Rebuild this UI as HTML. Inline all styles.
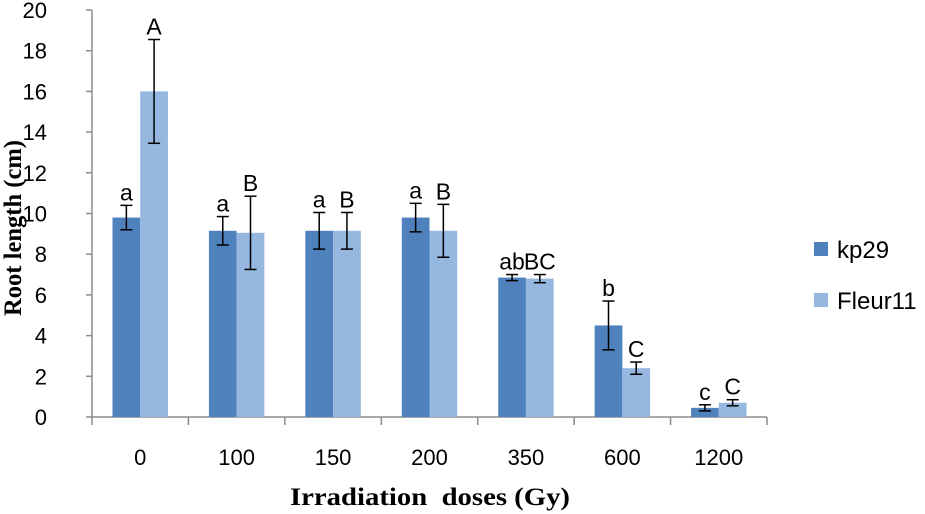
<!DOCTYPE html>
<html><head><meta charset="utf-8"><style>
body{margin:0;background:#fff}
svg{display:block;font-family:"Liberation Sans",sans-serif}
</style></head><body>
<svg id="c" width="925" height="514"></svg>
<script>
const categories=["0","100","150","200","350","600","1200"];
const kp29=[9.8,9.15,9.15,9.8,6.85,4.5,0.45];
const kp29Err=[0.6,0.7,0.9,0.7,0.15,1.2,0.15];
const kp29Labels=["a","a","a","a","ab","b","c"];
const fleur=[16,9.05,9.15,9.15,6.8,2.4,0.7];
const fleurErr=[2.55,1.8,0.9,1.3,0.2,0.3,0.15];
const fleurLabels=["A","B","B","B","BC","C","C"];
const yTicks=[0,2,4,6,8,10,12,14,16,18,20];
const NS="http://www.w3.org/2000/svg";
const svg=document.getElementById('c');
const X0=92,X1=767,Y0=417,Y1=10,YMAX=20;
const cw=(X1-X0)/categories.length;
const y=v=>Y0-(v/YMAX)*(Y0-Y1);
function mk(t,a,p){const e=document.createElementNS(NS,t);for(const k in a)e.setAttribute(k,a[k]);(p||svg).appendChild(e);return e;}
const axY=mk('line',{x1:X0,y1:Y1,x2:X0,y2:Y0,stroke:'#8c8c8c','stroke-width':1.5});


yTicks.forEach(t=>{
 const l=mk('line',{x1:X0-6,x2:X0,y1:y(t),y2:y(t),stroke:'#8c8c8c','stroke-width':1.5});
 
 
 const tx=mk('text',{x:47,y:y(t)+8,'text-anchor':'end','font-size':22,fill:'#000'});
 tx.textContent=t;
 
 
});
const axX=mk('line',{x1:X0,y1:Y0,x2:X1,y2:Y0,stroke:'#8c8c8c','stroke-width':1.5});


for(let i=0;i<=categories.length;i++){
 const l=mk('line',{x1:X0+i*cw,x2:X0+i*cw,y1:Y0,y2:Y0+8,stroke:'#8c8c8c','stroke-width':1.5});
 
 
}
const bw=cw*0.2875,gap=(cw-2*bw)/2;
function errBar(cx,v,e){
 const g=mk('g',{stroke:'#000','stroke-width':1.5});
 
 
 mk('line',{x1:cx,x2:cx,y1:y(v+e),y2:y(v-e)},g);
 mk('line',{x1:cx-6,x2:cx+6,y1:y(v+e),y2:y(v+e)},g);
 mk('line',{x1:cx-6,x2:cx+6,y1:y(v-e),y2:y(v-e)},g);
}
function letter(cx,v,e,s){
 const t=mk('text',{x:cx,y:y(v+e)-5,'text-anchor':'middle','font-size':23,fill:'#000'});
 t.textContent=s;
 
 
}
categories.forEach((c,i)=>{
 const gx=X0+i*cw+gap;
 const r1=mk('rect',{x:gx,y:y(kp29[i]),width:bw,height:Y0-y(kp29[i]),fill:'#4f81bd'});
 
 
 const r2=mk('rect',{x:gx+bw,y:y(fleur[i]),width:bw,height:Y0-y(fleur[i]),fill:'#95b7e0'});
 
 
 errBar(gx+bw/2,kp29[i],kp29Err[i]);
 errBar(gx+1.5*bw,fleur[i],fleurErr[i]);
 letter(gx+bw/2,kp29[i],kp29Err[i],kp29Labels[i]);
 letter(gx+1.5*bw,fleur[i],fleurErr[i],fleurLabels[i]);
 const t=mk('text',{x:X0+(i+0.5)*cw,y:465,'text-anchor':'middle','font-size':22,fill:'#000'});
 t.textContent=c;
 
 
});
</script>
<svg style="position:absolute;left:0;top:0" width="925" height="514">
<text transform="translate(21,228) rotate(-90)" text-anchor="middle" font-family="Liberation Serif,serif" font-weight="bold" font-size="25" textLength="176" lengthAdjust="spacingAndGlyphs">Root length (cm)</text>
<text x="430" y="505" text-anchor="middle" font-family="Liberation Serif,serif" font-weight="bold" font-size="25" textLength="280" lengthAdjust="spacingAndGlyphs" xml:space="preserve">Irradiation  doses (Gy)</text>
<g>
<rect x="814" y="242" width="14" height="14" fill="#4f81bd"/>
<text x="837" y="258" font-family="Liberation Sans,sans-serif" font-size="24">kp29</text>
<rect x="814" y="293" width="14" height="14" fill="#95b7e0"/>
<text x="837" y="309" font-family="Liberation Sans,sans-serif" font-size="24">Fleur11</text>
</g>
</svg>
</body></html>
